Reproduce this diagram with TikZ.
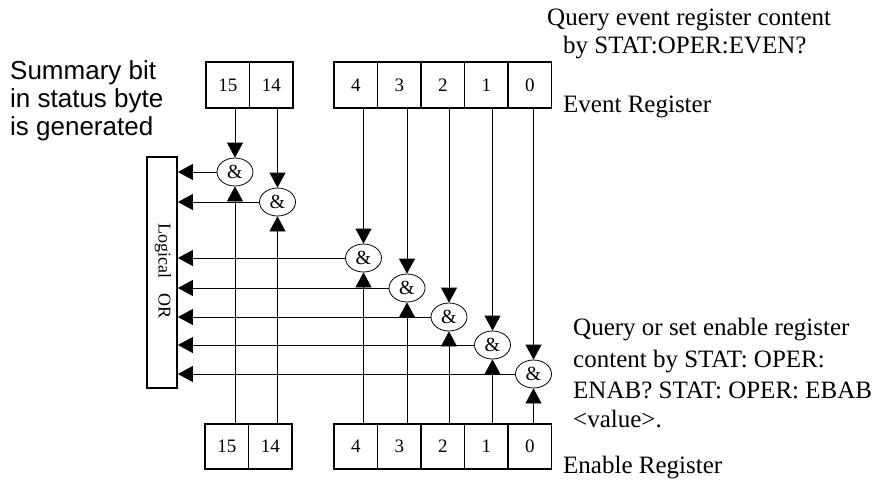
\documentclass[tikz,border=0pt]{standalone}
\usepackage{fontspec}
\setmainfont{Liberation Serif}
\newfontfamily\arialfont{Liberation Sans}
\usetikzlibrary{arrows.meta,shapes.geometric}
\begin{document}
\begin{tikzpicture}[x=1pt,y=-1pt,
  cell/.style={draw,line width=1.8pt,minimum width=43.5pt,minimum height=46pt,inner sep=0pt,font=\fontsize{19}{19}\selectfont},
  gate/.style={draw,ellipse,line width=0.8pt,minimum width=36pt,minimum height=28pt,inner sep=0pt,font=\fontsize{20}{20}\selectfont},
  orbox/.style={draw,line width=1.8pt,minimum width=30pt,minimum height=231pt,inner sep=0pt},
  arr/.style={line width=0.8pt,-{Triangle[length=15pt,width=16pt]}},
  serif/.style={anchor=base west,inner sep=0pt,font=\fontsize{25}{25}\selectfont},
  sans/.style={anchor=base west,inner sep=0pt,font=\arialfont\fontsize{26}{26}\selectfont}]
\useasboundingbox (0,0) rectangle (885,485);
% event register
\node[cell] (ev15) at (227.75,85) {\raisebox{-3pt}{15}};
\node[cell] (ev14) at (271.25,85) {\raisebox{-3pt}{14}};
\node[cell] (ev4) at (355.75,85) {\raisebox{-3pt}{4}};
\node[cell] (ev3) at (399.25,85) {\raisebox{-3pt}{3}};
\node[cell] (ev2) at (442.75,85) {\raisebox{-3pt}{2}};
\node[cell] (ev1) at (486.25,85) {\raisebox{-3pt}{1}};
\node[cell] (ev0) at (529.75,85) {\raisebox{-3pt}{0}};
% enable register
\node[cell,minimum height=45pt] (en15) at (226.75,446.5) {\raisebox{-3pt}{15}};
\node[cell,minimum height=45pt] (en14) at (270.25,446.5) {\raisebox{-3pt}{14}};
\node[cell,minimum height=45pt] (en4) at (355.75,446.5) {\raisebox{-3pt}{4}};
\node[cell,minimum height=45pt] (en3) at (399.25,446.5) {\raisebox{-3pt}{3}};
\node[cell,minimum height=45pt] (en2) at (442.75,446.5) {\raisebox{-3pt}{2}};
\node[cell,minimum height=45pt] (en1) at (486.25,446.5) {\raisebox{-3pt}{1}};
\node[cell,minimum height=45pt] (en0) at (529.75,446.5) {\raisebox{-3pt}{0}};
% logical OR
\node[orbox] (or) at (162,272.5) {};
\node[rotate=-90,font=\fontsize{18}{18}\selectfont,inner sep=0pt] (ortext) at (163,271) {Logical\hspace{16pt}OR};
% gates
\node[gate] (g15) at (235,172) {\&};
\node[gate] (g14) at (277.5,202) {\&};
\node[gate] (g4) at (363.5,258) {\&};
\node[gate] (g3) at (407,288) {\&};
\node[gate] (g2) at (449,317) {\&};
\node[gate] (g1) at (492.5,345) {\&};
\node[gate] (g0) at (533.5,374) {\&};
% connectors
\foreach \b in {15,14,4,3,2,1,0}{
  \draw[arr] (g\b |- ev\b.south) -- (g\b.north);
  \draw[arr] (g\b |- en\b.north) -- (g\b.south);
  \draw[arr] (g\b.west) -- (g\b.west -| or.east);
}
% texts
\node[sans] (s1) at (10,79) {Summary bit};
\node[sans] (s2) at (10,107) {in status byte};
\node[sans] (s3) at (10,135) {is generated};
\node[serif] (q1) at (547,25) {Query event register content};
\node[serif] (q2) at (563,53) {by STAT:OPER:EVEN?};
\node[serif] (evl) at (563,112) {Event Register};
\node[serif] (e1) at (573,335) {Query or set enable register};
\node[serif] (e2) at (573,367) {content by STAT: OPER:};
\node[serif] (e3) at (573,398) {ENAB? STAT: OPER: EBAB};
\node[serif] (e4) at (573,427) {\textless value\textgreater.};
\node[serif] (enl) at (563,473) {Enable Register};
\end{tikzpicture}
\end{document}
